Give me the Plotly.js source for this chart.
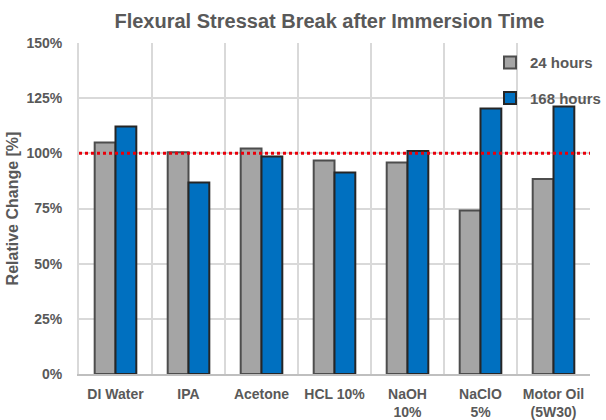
<!DOCTYPE html>
<html>
<head>
<meta charset="utf-8">
<script src="https://cdn.plot.ly/plotly-3.0.1.min.js"></script>
<style>
  html, body { margin: 0; padding: 0; background: #fff; }
  #chart { width: 606px; height: 420px; }
</style>
</head>
<body>
<div id="chart"></div>
<script>
// Media the samples were immersed in
const media = ['DI Water', 'IPA', 'Acetone', 'HCL 10%', 'NaOH<br>10%', 'NaClO<br>5%', 'Motor Oil<br>(5W30)'];

// Relative change of flexural stress at break, fraction of reference
const after24h = [1.049, 1.005, 1.022, 0.967, 0.958, 0.741, 0.884];
const after168h = [1.122, 0.868, 0.986, 0.913, 1.011, 1.203, 1.212];

// Y axis ticks
const yTicks = [0, 0.25, 0.5, 0.75, 1.0, 1.25, 1.5];
const yTickText = ['0%', '25%', '50%', '75%', '100%', '125%', '150%'];

const textColor = '#595959';
const fontFamily = '"Liberation Sans", Arial, sans-serif';

const data = [
    {
        x: media,
        y: after24h,
        type: 'bar',
        name: '24 hours',
        legendgroup: 'a',
        marker: { color: '#a5a5a5', line: { color: '#4d4d4d', width: 2 } },
    },
    {
        x: media,
        y: after168h,
        type: 'bar',
        name: '168 hours',
        legendgroup: 'b',
        marker: { color: '#0070c0', line: { color: '#262626', width: 2 } },
    },
];

const layout = {
    width: 606,
    height: 420,
    margin: { l: 79, r: 0, t: 43, b: 46 },
    paper_bgcolor: '#fff',
    plot_bgcolor: '#fff',
    font: { family: fontFamily, color: textColor, size: 14, weight: 'bold' },
    title: {
        text: 'Flexural Stressat Break after Immersion Time',
        font: { family: fontFamily, size: 20, color: textColor, weight: 'bold' },
        xref: 'paper',
        x: 0.49,
        y: 0.95,
        yanchor: 'middle',
    },
    barmode: 'group',
    bargap: 0.43,
    bargroupgap: 0,
    xaxis: {
        type: 'category',
        tickson: 'boundaries',
        tickangle: 0,
        showgrid: true,
        gridcolor: '#d9d9d9',
        gridwidth: 2,
        showline: true,
        linecolor: '#bfbfbf',
        linewidth: 2,
        ticks: '',
        ticklabelstandoff: 6,
        tickfont: { family: fontFamily, size: 14, color: textColor, weight: 'bold' },
        fixedrange: true,
    },
    yaxis: {
        range: [0, 1.5],
        tickvals: yTicks,
        ticktext: yTickText,
        showgrid: true,
        gridcolor: '#d9d9d9',
        gridwidth: 2,
        showline: true,
        linecolor: '#d9d9d9',
        linewidth: 2,
        zeroline: false,
        ticks: '',
        ticklabelstandoff: 12,
        tickfont: { family: fontFamily, size: 14, color: textColor, weight: 'bold' },
        title: {
            text: 'Relative Change [%]',
            font: { family: fontFamily, size: 16, color: textColor, weight: 'bold' },
            standoff: 4,
        },
        fixedrange: true,
    },
    legend: {
        x: 0.805,
        xanchor: 'left',
        y: 0.99,
        yanchor: 'top',
        bgcolor: 'rgba(0,0,0,0)',
        traceorder: 'grouped',
        tracegroupgap: 13,
        itemwidth: 30,
        font: { family: fontFamily, size: 15, color: textColor, weight: 'bold' },
    },
    shapes: [
        {
            type: 'line',
            xref: 'paper',
            yref: 'y',
            x0: 0,
            x1: 1,
            y0: 1,
            y1: 1,
            line: { color: '#e8000b', width: 3, dash: 'dot' },
        },
    ],
};

Plotly.newPlot('chart', data, layout, { displayModeBar: false, staticPlot: true });
</script>
</body>
</html>
